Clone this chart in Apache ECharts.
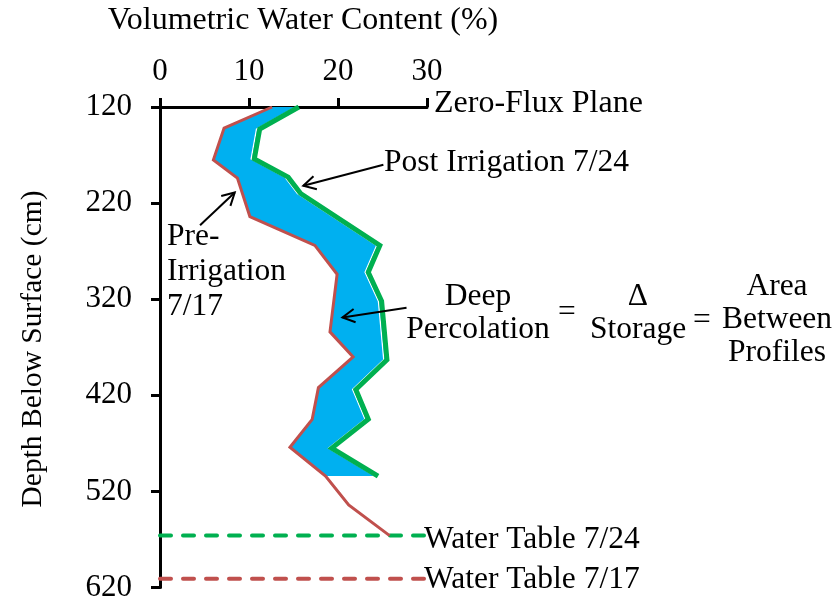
<!DOCTYPE html>
<html>
<head>
<meta charset="utf-8">
<script src="https://cdn.jsdelivr.net/npm/echarts@6/dist/echarts.min.js"></script>
<style>
  html, body { margin: 0; padding: 0; background: #fff; }
  #chart { width: 836px; height: 603px; }
</style>
</head>
<body>
<div id="chart"></div>
<script>
// Soil moisture profiles: volumetric water content (%) vs. depth below surface (cm)
const xTicks = [0, 10, 20, 30];
const yTicks = [120, 220, 320, 420, 520, 620];

// Pre-irrigation profile, 7/17
const depthPre = [120, 142, 175, 194, 234, 264, 294, 354, 380, 412, 445, 474, 504, 534, 566];
const vwcPre   = [12.6, 7.2, 6.0, 8.7, 10.1, 17.4, 19.9, 19.1, 21.7, 17.8, 17.1, 14.6, 18.6, 21.2, 25.8];

// Post-irrigation profile, 7/24
const depthPost = [120, 143, 174, 193, 210, 264, 292, 322, 383, 414, 445, 475, 504];
const vwcPost   = [15.6, 11.2, 10.6, 14.4, 15.8, 24.7, 23.4, 24.9, 25.5, 22.0, 23.4, 19.3, 24.5];

// Water table depths (cm)
const waterTable724 = 566;
const waterTable717 = 611;

// Annotation arrows: [fromVWC, fromDepth, toVWC, toDepth]
const arrows = [
  [25.1, 180, 16.1, 202],
  [4.5, 243, 8.4, 209],
  [27.7, 329, 20.5, 339]
];

const RED = '#C0504D', GREEN = '#00B050', BLUE = '#00B0F0';
const FONT = '"Liberation Serif", "Times New Roman", serif';
const FS = 31.5;

const pre = depthPre.map((d, i) => [vwcPre[i], d]);
const post = depthPost.map((d, i) => [vwcPost[i], d]);
const maxPostDepth = depthPost[depthPost.length - 1];

const chart = echarts.init(document.getElementById('chart'), null, { renderer: 'canvas' });

function txt(text, x, y, align, extra, size) {
  return Object.assign({
    type: 'text', x: x, y: y, z: 100,
    style: {
      text: text, font: (size || FS) + 'px ' + FONT, fill: '#000',
      textAlign: align, textVerticalAlign: 'middle'
    }
  }, extra || {});
}

const option = {
  animation: false,
  backgroundColor: '#fff',
  grid: { left: 160, right: 409, top: 107, bottom: 15, containLabel: false },
  xAxis: {
    type: 'value', position: 'top', min: 0, max: 30, interval: 10,
    axisLine: { show: true, lineStyle: { color: '#000', width: 3 } },
    axisTick: { show: true, inside: false, length: 9, lineStyle: { color: '#000', width: 3 } },
    axisLabel: { margin: 20, color: '#000', fontSize: 31, fontFamily: FONT,
      formatter: v => xTicks.includes(v) ? String(v) : '' },
    splitLine: { show: false }
  },
  yAxis: {
    type: 'value', inverse: true, min: 120, max: 620, interval: 100,
    axisLine: { show: true, onZero: false, lineStyle: { color: '#000', width: 3 } },
    axisTick: { show: true, inside: false, length: 9, lineStyle: { color: '#000', width: 3 } },
    axisLabel: { margin: 28, color: '#000', fontSize: 31, fontFamily: FONT,
      formatter: v => yTicks.includes(v) ? String(v) : '' },
    splitLine: { show: false }
  },
  series: [
    {
      // storage change: area between the two profiles
      type: 'custom', z: 1, clip: false,
      data: [[0, 120]],
      renderItem: function (params, api) {
        const left = pre.filter(p => p[1] <= maxPostDepth).map(p => api.coord(p));
        const right = post.map(p => api.coord(p));
        const poly = left.concat(right.slice().reverse());
        const edge = right.map(p => [p[0] - 3.2, p[1]]);
        return {
          type: 'group',
          children: [
            { type: 'polygon', shape: { points: poly }, style: { fill: BLUE, stroke: null } },
            { type: 'polyline', shape: { points: edge }, style: { stroke: '#fff', lineWidth: 1.3, fill: null } }
          ]
        };
      }
    },
    {
      name: 'Pre-Irrigation 7/17', type: 'line', z: 3, data: pre,
      showSymbol: false, symbol: 'none',
      lineStyle: { color: RED, width: 3, join: 'miter' }
    },
    {
      name: 'Post Irrigation 7/24', type: 'line', z: 4, data: post,
      showSymbol: false, symbol: 'none',
      lineStyle: { color: GREEN, width: 5, join: 'miter' }
    },
    {
      name: 'Water Table 7/24', type: 'line', z: 2,
      data: [[0, waterTable724], [30, waterTable724]],
      showSymbol: false, symbol: 'none',
      lineStyle: { color: GREEN, width: 4, type: [11, 12], cap: 'round' }
    },
    {
      name: 'Water Table 7/17', type: 'line', z: 2,
      data: [[0, waterTable717], [30, waterTable717]],
      showSymbol: false, symbol: 'none',
      lineStyle: { color: RED, width: 4, type: [11, 12], cap: 'round' }
    },
    {
      // annotation arrows with open heads
      type: 'custom', z: 10, clip: false,
      encode: { x: [0, 2], y: [1, 3] },
      data: arrows,
      renderItem: function (params, api) {
        const p1 = api.coord([api.value(0), api.value(1)]);
        const p2 = api.coord([api.value(2), api.value(3)]);
        const ang = Math.atan2(p2[1] - p1[1], p2[0] - p1[0]);
        const L = 14, a = 0.5;
        const h1 = [p2[0] - L * Math.cos(ang - a), p2[1] - L * Math.sin(ang - a)];
        const h2 = [p2[0] - L * Math.cos(ang + a), p2[1] - L * Math.sin(ang + a)];
        return {
          type: 'group',
          children: [
            { type: 'line', shape: { x1: p1[0], y1: p1[1], x2: p2[0], y2: p2[1] },
              style: { stroke: '#000', lineWidth: 2 } },
            { type: 'polyline', shape: { points: [h1, p2, h2] },
              style: { stroke: '#000', lineWidth: 2, fill: null } }
          ]
        };
      }
    }
  ],
  graphic: [
    txt('Volumetric Water Content (%)', 303, 21, 'center', null, 32),
    txt('Depth Below Surface (cm)', 33, 349, 'center', { rotation: Math.PI / 2 }, 29.5),
    txt('Zero-Flux Plane', 434, 104, 'left', null, 32),
    txt('Post Irrigation 7/24', 384, 163, 'left'),
    txt('Pre-', 167, 237, 'left'),
    txt('Irrigation', 167, 272, 'left'),
    txt('7/17', 167, 307, 'left'),
    txt('Deep', 478, 297, 'center'),
    txt('Percolation', 478, 330, 'center'),
    txt('=', 567, 313, 'center'),
    txt('\u0394', 638, 297, 'center'),
    txt('Storage', 638, 330, 'center'),
    txt('=', 702, 321, 'center'),
    txt('Area', 777, 287, 'center'),
    txt('Between', 777, 320, 'center'),
    txt('Profiles', 777, 353, 'center'),
    txt('Water Table 7/24', 424, 540, 'left'),
    txt('Water Table 7/17', 424, 580, 'left')
  ]
};

chart.setOption(option);
</script>
</body>
</html>
